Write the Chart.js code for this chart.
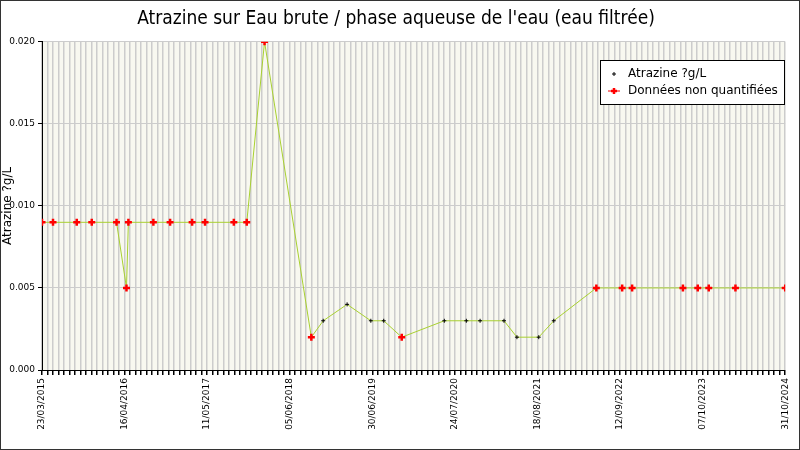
<!DOCTYPE html><html><head><meta charset="utf-8">
<script src="https://cdn.jsdelivr.net/npm/chart.js@4"></script>
<style>body{margin:0;background:#fff}#w{width:798px;height:448px;border:1px solid #333}</style></head><body>
<div id="w"><canvas id="c"></canvas></div>
<script>
const startDate = Date.UTC(2015,2,23);
const days = [0,52,164,235,352,399,408,526,605,709,770,906,967,1051,1272,1328,1441,1553,1614,1699,1900,2004,2069,2182,2243,2346,2417,2618,2740,2787,3027,3097,3149,3275,3510];
const values = [0.009,0.009,0.009,0.009,0.009,0.005,0.009,0.009,0.009,0.009,0.009,0.009,0.009,0.020,0.002,0.003,0.004,0.003,0.003,0.002,0.003,0.003,0.003,0.003,0.002,0.002,0.003,0.005,0.005,0.005,0.005,0.005,0.005,0.005,0.005];
const nonQuant = [1,1,1,1,1,1,1,1,1,1,1,1,1,1,1,0,0,0,0,1,0,0,0,0,0,0,0,1,1,1,1,1,1,1,1];
const pts = days.map((d,i)=>({x:d,y:values[i]}));
function fmt(d){const t=new Date(startDate+d*86400000);const p=n=>String(n).padStart(2,'0');return p(t.getUTCDate())+'/'+p(t.getUTCMonth()+1)+'/'+t.getUTCFullYear();}
const bgPlugin={id:'bg',beforeDraw(ch){const a=ch.chartArea,c=ch.ctx;c.save();c.fillStyle='#f8f8f0';c.fillRect(a.left,a.top,a.right-a.left,a.bottom-a.top);c.restore();},
afterDraw(ch){const c=ch.ctx;c.save();const x=599,y=59,w=184,h=44;c.fillStyle='#fff';c.fillRect(x,y,w,h);c.strokeStyle='#000';c.lineWidth=1;c.strokeRect(x+.5,y+.5,w,h);
c.fillStyle='#000';c.font='12px "DejaVu Sans"';c.textBaseline='middle';c.fillText('Atrazine ?g/L',x+28,y+14);c.fillText('Données non quantifiées',x+28,y+31);
c.strokeStyle='#000';c.beginPath();c.moveTo(x+12,y+14);c.lineTo(x+16,y+14);c.moveTo(x+14,y+12);c.lineTo(x+14,y+16);c.stroke();
c.strokeStyle='#e00';c.beginPath();c.moveTo(x+8,y+31);c.lineTo(x+20,y+31);c.stroke();c.lineWidth=2.5;c.strokeStyle='#f00';c.beginPath();c.moveTo(x+11,y+31);c.lineTo(x+17,y+31);c.moveTo(x+14,y+28);c.lineTo(x+14,y+34);c.stroke();c.restore();}};
new Chart(document.getElementById('c'),{type:'line',
data:{datasets:[{label:'Atrazine ?g/L',data:pts,borderColor:'#a8d030',borderWidth:1,tension:0,
pointStyle:'cross',pointRadius:nonQuant.map(n=>n?3.5:2),pointBorderWidth:nonQuant.map(n=>n?2.5:1),
pointBorderColor:nonQuant.map(n=>n?'#f00':'#000'),pointBackgroundColor:nonQuant.map(n=>n?'#f00':'#000'),pointHoverRadius:0}]},
options:{responsive:true,maintainAspectRatio:false,animation:false,events:[],
layout:{padding:{left:0,right:8,top:0,bottom:0}},
plugins:{legend:{display:false},tooltip:{enabled:false},title:{display:true,text:"Atrazine sur Eau brute / phase aqueuse de l'eau (eau filtrée)",font:{family:'DejaVu Sans Condensed, DejaVu Sans',size:19,weight:'normal'},color:'#000',padding:{top:7,bottom:11}}},
scales:{x:{type:'linear',min:0,max:3510,afterFit(ax){ax.height=79;},afterBuildTicks(ax){const t=[];for(let d=0;d<=3510;d+=26)t.push({value:d});ax.ticks=t;},
ticks:{autoSkip:false,maxRotation:90,minRotation:90,font:{family:'DejaVu Sans',size:9},color:'#000',callback:(v)=>(v%390===0)?fmt(v):''},
grid:{color:'#ccc',tickColor:'#000',tickLength:5,lineWidth:1.5},border:{color:'#000'}},
y:{min:0,max:0.020,afterFit(ax){ax.width=41;},ticks:{stepSize:0.005,font:{family:'DejaVu Sans',size:9},color:'#000',callback:v=>v.toFixed(3)},
grid:{color:'#ccc',tickColor:'#000',tickLength:4},border:{color:'#000'},
title:{display:true,text:'Atrazine ?g/L',font:{family:'DejaVu Sans',size:12},color:'#000',padding:0}}}},
plugins:[bgPlugin]});
</script></body></html>
